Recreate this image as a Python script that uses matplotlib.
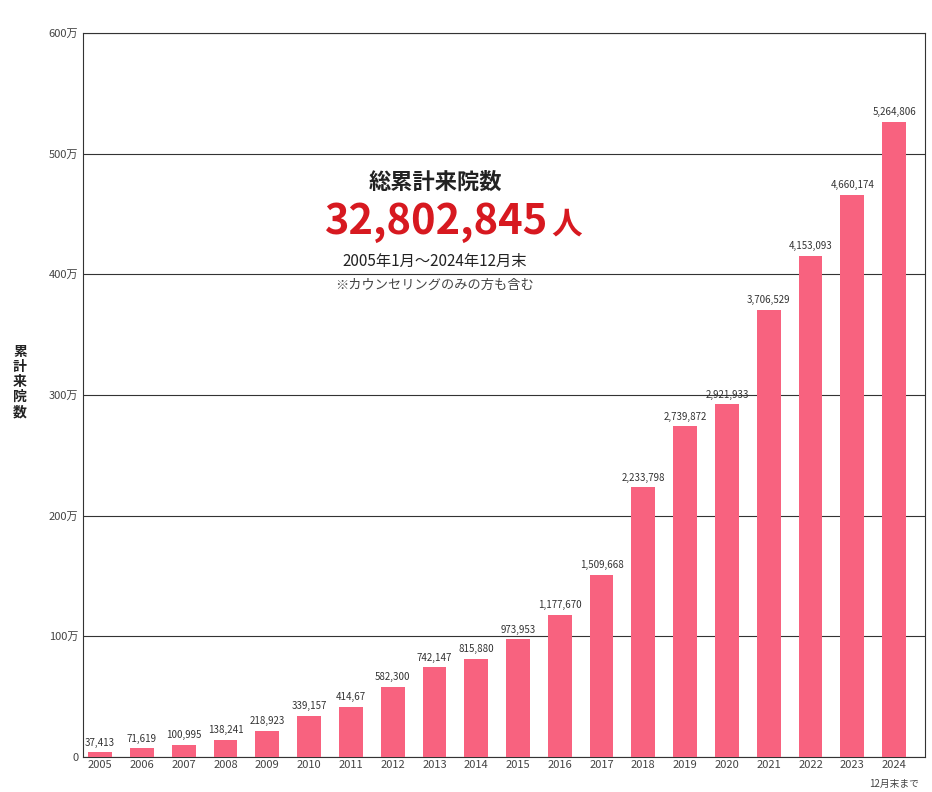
import matplotlib.pyplot as plt

plt.rcParams['font.family'] = ['Noto Sans CJK JP', 'DejaVu Sans']

years = [str(y) for y in range(2005, 2025)]
visits = [37413, 71619, 100995, 138241, 218923, 339157, 414670, 582300, 742147, 815880,
          973953, 1177670, 1509668, 2233798, 2739872, 2921933, 3706529, 4153093, 4660174, 5264806]
value_labels = ["37,413", "71,619", "100,995", "138,241", "218,923", "339,157", "414,67", "582,300",
                "742,147", "815,880", "973,953", "1,177,670", "1,509,668", "2,233,798", "2,739,872",
                "2,921,933", "3,706,529", "4,153,093", "4,660,174", "5,264,806"]
yticks = [0, 1000000, 2000000, 3000000, 4000000, 5000000, 6000000]
ytick_labels = ["0", "100万", "200万", "300万", "400万", "500万", "600万"]

fig = plt.figure(figsize=(9.32, 7.92), dpi=100)
ax = fig.add_axes([83/932, 1 - 757/792, 842/932, 724/792])

x = range(len(years))
ax.bar(x, visits, width=0.57, color='#F8627F', zorder=3)
for i, (v, lab) in enumerate(zip(visits, value_labels)):
    ax.text(i, v + 40000, lab, ha='center', va='bottom', fontsize=7, color='#333333')

ax.set_xlim(-0.41, 19.74)
ax.set_ylim(0, 6000000)
ax.set_yticks(yticks)
ax.set_yticklabels(ytick_labels, fontsize=8, color='#444444')
ax.set_xticks(list(x))
ax.set_xticklabels(years, fontsize=8, color='#444444')
ax.tick_params(length=0)
ax.tick_params(axis='x', pad=2)
ax.grid(axis='y', color='#333333', linewidth=0.8, zorder=0)
for s in ax.spines.values():
    s.set_color('#333333')
    s.set_linewidth(0.8)

ax.text(19, -185000, "12月末まで", ha='center', va='top', fontsize=7, color='#444444')

ax.text(0.418, 0.794, "総累計来院数", transform=ax.transAxes, ha='center', va='center',
        fontsize=16, fontweight='bold', color='#222222')
ax.text(0.553, 0.739, "32,802,845", transform=ax.transAxes, ha='right', va='center',
        fontsize=30, fontweight='bold', color='#D71920')
ax.text(0.556, 0.735, "人", transform=ax.transAxes, ha='left', va='center',
        fontsize=22, fontweight='bold', color='#D71920')
ax.text(0.418, 0.684, "2005年1月～2024年12月末", transform=ax.transAxes, ha='center', va='center',
        fontsize=11, color='#222222')
ax.text(0.418, 0.652, "※カウンセリングのみの方も含む", transform=ax.transAxes, ha='center', va='center',
        fontsize=9.5, color='#444444')

fig.text(20/932, 1 - 382/792, "\n".join("累計来院数"), ha='center', va='center',
         fontsize=10, fontweight='bold', color='#222222', linespacing=1.1)

fig.savefig("out.png", dpi=100, facecolor='white')
